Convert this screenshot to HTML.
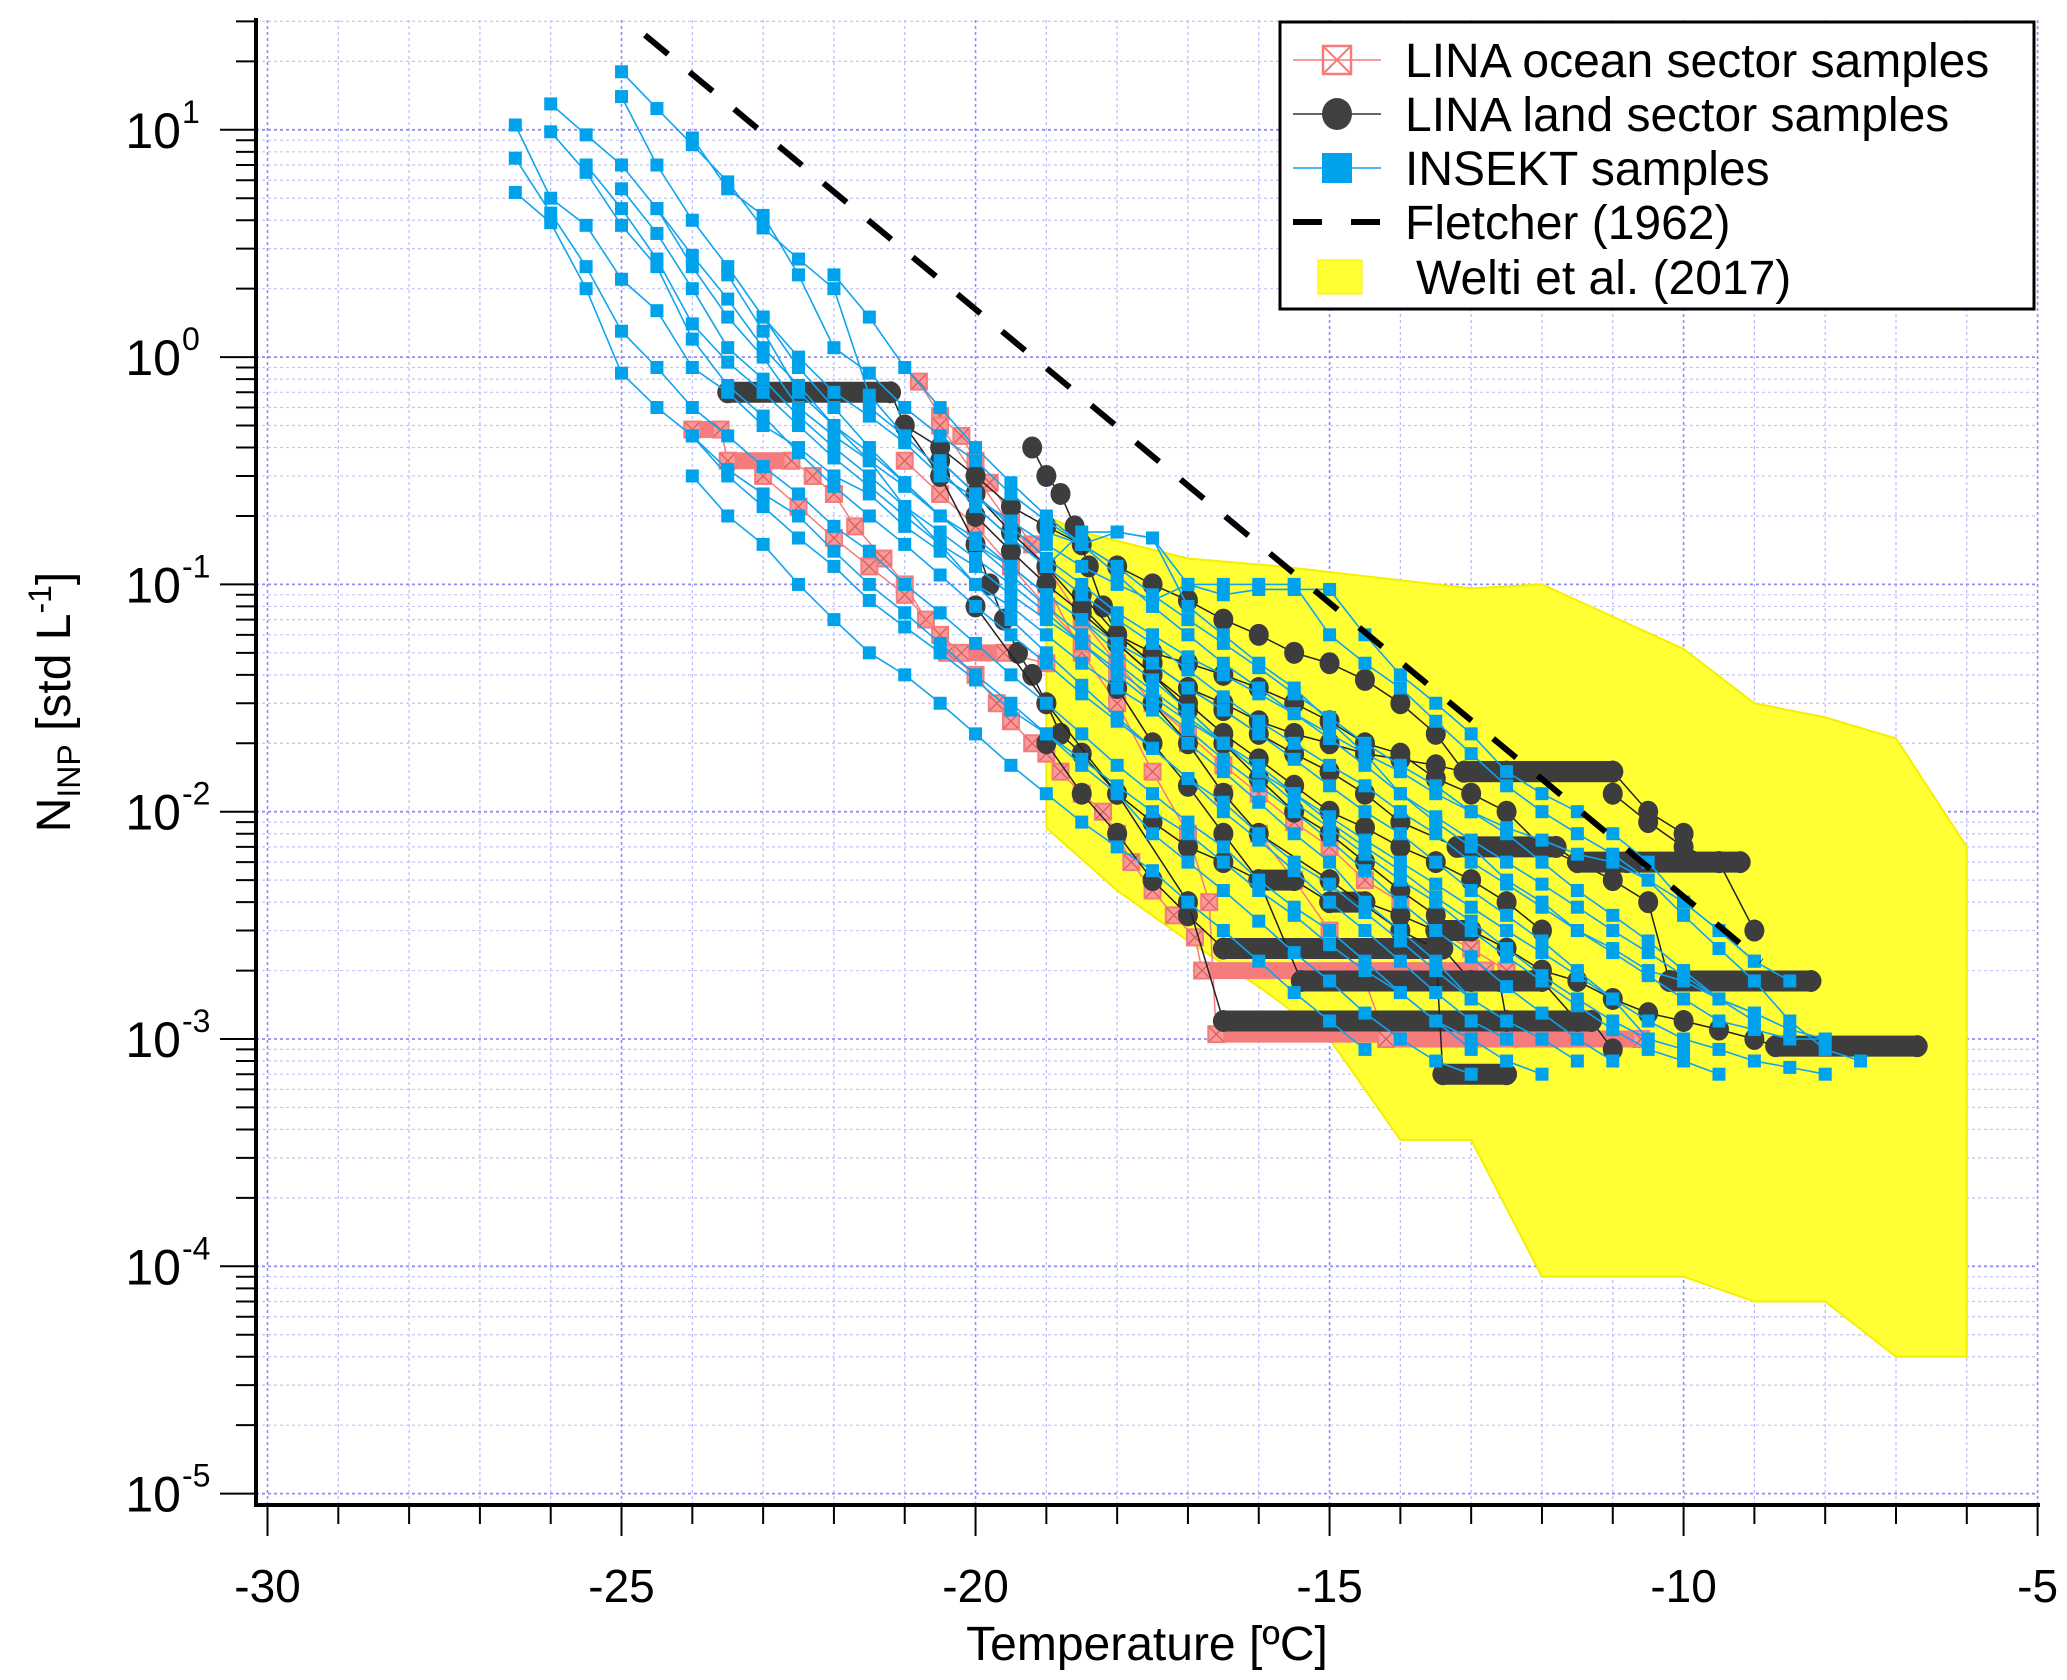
<!DOCTYPE html>
<html><head><meta charset="utf-8">
<style>
html,body{margin:0;padding:0;background:#fff;}
svg{display:block;font-family:"Liberation Sans",Arial,sans-serif;}
</style></head>
<body>
<svg id="chart" width="2067" height="1680" viewBox="0 0 2067 1680" xmlns="http://www.w3.org/2000/svg">
<defs><clipPath id="plotclip"><rect x="256" y="20" width="1782" height="1485"/></clipPath></defs>
<g id="grid"></g>
<g id="welti" clip-path="url(#plotclip)"></g>
<g id="pinkg" clip-path="url(#plotclip)"></g>
<g id="blackg" clip-path="url(#plotclip)"></g>
<g id="blueg" clip-path="url(#plotclip)"></g>
<g id="fletcher" clip-path="url(#plotclip)"></g>
<g id="axes"></g>
<text x="1147" y="1660" font-size="48" text-anchor="middle">Temperature [ºC]</text>
<text transform="translate(70,702) rotate(-90)" font-size="48" text-anchor="middle">N<tspan font-size="32" dy="10">INP</tspan><tspan dy="-10"> [std L</tspan><tspan font-size="32" dy="-19">-1</tspan><tspan dy="19">]</tspan></text>
<g id="legend">
<rect x="1280" y="22" width="754" height="287" fill="#fff" stroke="#000" stroke-width="3"/>
<g>
<line x1="1293" y1="60" x2="1381" y2="60" stroke="#f47c7c" stroke-width="1.5"/>
<rect x="1323" y="46" width="28" height="28" fill="none" stroke="#f47c7c" stroke-width="2.5"/>
<path d="M1323 46 L1351 74 M1351 46 L1323 74" stroke="#f47c7c" stroke-width="2"/>
<text x="1405" y="77" font-size="48">LINA ocean sector samples</text></g>
<g>
<line x1="1293" y1="114" x2="1381" y2="114" stroke="#333" stroke-width="1.5"/>
<ellipse cx="1337" cy="114" rx="15" ry="16" fill="#404040"/>
<text x="1405" y="131" font-size="48">LINA land sector samples</text></g>
<g>
<line x1="1293" y1="168" x2="1381" y2="168" stroke="#0aa3ef" stroke-width="1.5"/>
<rect x="1322" y="153" width="30" height="30" fill="#00a2ec"/>
<text x="1405" y="185" font-size="48">INSEKT samples</text></g>
<g>
<line x1="1293" y1="222" x2="1381" y2="222" stroke="#000" stroke-width="6" stroke-dasharray="29,29"/>
<text x="1405" y="239" font-size="48">Fletcher (1962)</text></g>
<g>
<rect x="1318" y="260" width="44" height="34" fill="#ffff33" stroke="#ffee00" stroke-width="1"/>
<text x="1416" y="294" font-size="48">Welti et al. (2017)</text></g>
</g>
</svg>
<script>
// axis domains
const xDomain=[-30,-5];
const yDomainLog=[-5,1];
const xTicks=[-30,-25,-20,-15,-10,-5];
const xTickLabels=["-30","-25","-20","-15","-10","-5"];
const yTickExps=[1,0,-1,-2,-3,-4,-5];
const yTickLabelExps=["1","0","-1","-2","-3","-4","-5"];
// Fletcher (1962) line endpoints
const fletcherT=[-25.3,-8.9];
const fletcherN=[38,0.0022];
// Welti et al. (2017) envelope
const weltiT=[-19,-18.5,-17,-15.7,-13,-12,-10,-9,-8,-7,-6,-6,-7,-8,-9,-10,-12,-13,-14,-15,-16,-17,-18,-19];
const weltiN=[0.2,0.17,0.13,0.12,0.096,0.1,0.052,0.03,0.026,0.021,0.007,0.00004,0.00004,0.00007,0.00007,0.00009,0.00009,0.00036,0.00036,0.001,0.0017,0.0027,0.0045,0.0085];
// INSEKT samples
const blueT=[
[-25,-24.5,-24,-23.5,-23,-22.5,-22,-21.5,-21,-20.5,-20,-19.5,-19,-18.5,-18,-17.5,-17,-16.5,-16,-15.5,-15,-14.5,-14,-13.5,-13,-12.5,-12,-11.5,-11,-10.5,-10,-9.5,-9],
[-26.5,-26,-25.5,-25,-24.5,-24,-23.5,-23,-22.5,-22,-21.5,-21,-20.5,-20,-19.5,-19,-18.5,-18,-17.5,-17,-16.5,-16,-15.5,-15,-14.5,-14,-13.5,-13],
[-26.5,-26,-25.5,-25,-24.5,-24,-23.5,-23,-22.5,-22,-21.5,-21,-20.5,-20,-19.5,-19,-18.5,-18,-17.5,-17,-16.5,-16,-15.5,-15,-14.5,-14,-13.5,-13],
[-26.5,-26,-25.5,-25,-24.5,-24,-23.5,-23,-22.5,-22,-21.5,-21,-20.5,-20,-19.5,-19,-18.5,-18,-17.5,-17,-16.5,-16,-15.5,-15,-14.5,-14,-13.5,-13],
[-26,-25.5,-25,-24.5,-24,-23.5,-23,-22.5,-22,-21.5,-21,-20.5,-20,-19.5,-19,-18.5,-18,-17.5,-17,-16.5,-16,-15.5,-15,-14.5,-14,-13.5,-13,-12.5,-12,-11.5,-11,-10.5],
[-26,-25.5,-25,-24.5,-24,-23.5,-23,-22.5,-22,-21.5,-21,-20.5,-20,-19.5,-19,-18.5,-18,-17.5,-17,-16.5,-16,-15.5,-15,-14.5,-14,-13.5,-13,-12.5,-12,-11.5],
[-25.5,-25,-24.5,-24,-23.5,-23,-22.5,-22,-21.5,-21,-20.5,-20,-19.5,-19,-18.5,-18,-17.5,-17,-16.5,-16,-15.5,-15,-14.5,-14,-13.5,-13,-12.5,-12,-11.5,-11,-10.5,-10],
[-25,-24.5,-24,-23.5,-23,-22.5,-22,-21.5,-21,-20.5,-20,-19.5,-19,-18.5,-18,-17.5,-17,-16.5,-16,-15.5,-15,-14.5,-14,-13.5,-13,-12.5,-12,-11.5,-11,-10.5,-10,-9.5,-9],
[-25,-24.5,-24,-23.5,-23,-22.5,-22,-21.5,-21,-20.5,-20,-19.5,-19,-18.5,-18,-17.5,-17,-16.5,-16,-15.5,-15,-14.5,-14,-13.5,-13,-12.5,-12,-11.5,-11],
[-24.5,-24,-23.5,-23,-22.5,-22,-21.5,-21,-20.5,-20,-19.5,-19,-18.5,-18,-17.5,-17,-16.5,-16,-15.5,-15,-14.5,-14,-13.5,-13,-12.5,-12,-11.5,-11,-10.5,-10,-9.5],
[-24,-23.5,-23,-22.5,-22,-21.5,-21,-20.5,-20,-19.5,-19,-18.5,-18,-17.5,-17,-16.5,-16,-15.5,-15,-14.5,-14,-13.5,-13,-12.5,-12,-11.5,-11,-10.5,-10,-9.5,-9],
[-24,-23.5,-23,-22.5,-22,-21.5,-21,-20.5,-20,-19.5,-19,-18.5,-18,-17.5,-17,-16.5,-16,-15.5,-15,-14.5,-14,-13.5,-13,-12.5,-12],
[-23.5,-23,-22.5,-22,-21.5,-21,-20.5,-20,-19.5,-19,-18.5,-18,-17.5,-17,-16.5,-16,-15.5,-15,-14.5,-14,-13.5,-13,-12.5],
[-24,-23.5,-23,-22.5,-22,-21.5,-21,-20.5,-20,-19.5,-19,-18.5,-18,-17.5,-17,-16.5,-16,-15.5,-15,-14.5],
[-23,-22.5,-22,-21.5,-21,-20.5,-20,-19.5,-19,-18.5,-18,-17.5,-17,-16.5,-16,-15.5,-15,-14.5,-14,-13.5,-13,-12.5,-12,-11.5,-11,-10.5,-10,-9.5,-9,-8.5,-8],
[-22,-21.5,-21,-20.5,-20,-19.5,-19,-18.5,-18,-17.5,-17,-16.5,-16,-15.5,-15,-14.5,-14,-13.5,-13,-12.5,-12,-11.5,-11,-10.5,-10,-9.5,-9,-8.5,-8],
[-21.5,-21,-20.5,-20,-19.5,-19,-18.5,-18,-17.5,-17,-16.5,-16,-15.5,-15,-14.5,-14,-13.5,-13,-12.5,-12,-11.5,-11,-10.5,-10,-9.5,-9,-8.5,-8],
[-20.5,-20,-19.5,-19,-18.5,-18,-17.5,-17,-16.5,-16,-15.5,-15,-14.5,-14,-13.5,-13,-12.5,-12,-11.5,-11,-10.5,-10,-9.5,-9,-8.5,-8,-7.5],
[-19,-18.5,-18,-17.5,-17,-16.5,-16,-15.5,-15,-14.5,-14,-13.5,-13,-12.5,-12,-11.5,-11,-10.5,-10,-9.5,-9,-8.5]
];
const blueN=[
[18,12.4,8.6,5.9,3.7,2.7,2.0,0.68,0.45,0.32,0.22,0.16,0.12,0.17,0.17,0.16,0.08,0.06,0.045,0.035,0.025,0.018,0.012,0.009,0.007,0.005,0.004,0.003,0.0025,0.002,0.0018,0.0015,0.0013],
[10.5,5,3.8,2.2,1.6,0.9,0.7,0.5,0.4,0.3,0.25,0.18,0.14,0.1,0.08,0.06,0.045,0.035,0.028,0.02,0.015,0.011,0.008,0.006,0.004,0.003,0.0022,0.0015],
[7.5,4.3,2.5,1.3,0.9,0.6,0.45,0.33,0.25,0.18,0.14,0.1,0.075,0.055,0.04,0.03,0.022,0.016,0.012,0.009,0.007,0.005,0.0038,0.003,0.0022,0.0016,0.0012,0.0009],
[5.3,3.9,2.0,0.85,0.6,0.45,0.32,0.25,0.2,0.14,0.1,0.075,0.055,0.04,0.03,0.022,0.016,0.012,0.008,0.006,0.0045,0.0033,0.0024,0.0018,0.0013,0.001,0.0008,0.0007],
[13,9.5,7,4.5,2.8,1.8,1.1,0.75,0.5,0.38,0.28,0.2,0.15,0.12,0.09,0.07,0.055,0.045,0.035,0.028,0.022,0.017,0.013,0.01,0.008,0.006,0.0045,0.0035,0.0027,0.002,0.0015,0.001],
[9.8,6.5,3.8,2.5,1.2,0.75,0.55,0.38,0.27,0.2,0.15,0.11,0.08,0.06,0.045,0.033,0.025,0.019,0.014,0.011,0.008,0.006,0.0048,0.0036,0.0027,0.002,0.0015,0.0012,0.001,0.0008],
[7,4.5,2.7,1.4,0.95,0.7,0.5,0.36,0.27,0.2,0.15,0.12,0.09,0.07,0.055,0.042,0.032,0.025,0.02,0.016,0.012,0.009,0.007,0.0055,0.0042,0.0033,0.0025,0.0019,0.0015,0.0012,0.001,0.0009],
[14,7,4,2.5,1.5,1,0.7,0.55,0.42,0.3,0.24,0.19,0.15,0.12,0.1,0.085,0.1,0.1,0.1,0.1,0.06,0.045,0.035,0.025,0.018,0.013,0.01,0.008,0.0065,0.005,0.004,0.003,0.0022],
[5.5,3.5,2,1.1,0.8,0.55,0.4,0.3,0.22,0.17,0.13,0.1,0.075,0.055,0.04,0.03,0.023,0.017,0.013,0.01,0.0075,0.0055,0.004,0.003,0.0023,0.0017,0.0013,0.001,0.0008],
[4.5,2.5,1.5,1,0.6,0.45,0.35,0.27,0.2,0.16,0.12,0.09,0.07,0.05,0.038,0.028,0.02,0.015,0.011,0.0085,0.0065,0.005,0.004,0.003,0.0023,0.0018,0.0014,0.0011,0.0009,0.0008,0.0007],
[9.2,5.5,4.2,2.3,1.1,0.85,0.6,0.45,0.35,0.25,0.19,0.15,0.12,0.09,0.07,0.055,0.043,0.033,0.026,0.02,0.016,0.013,0.01,0.008,0.006,0.0045,0.0035,0.0027,0.002,0.0015,0.0012],
[0.45,0.3,0.22,0.16,0.12,0.085,0.065,0.05,0.038,0.028,0.022,0.017,0.013,0.01,0.008,0.006,0.0045,0.0035,0.0026,0.002,0.0016,0.0012,0.001,0.0008,0.0007],
[2.3,1.3,0.7,0.5,0.35,0.22,0.15,0.1,0.07,0.05,0.036,0.026,0.019,0.014,0.01,0.0075,0.0055,0.004,0.003,0.0022,0.0016,0.0012,0.001],
[0.3,0.2,0.15,0.1,0.07,0.05,0.04,0.03,0.022,0.016,0.012,0.009,0.007,0.0055,0.004,0.003,0.0022,0.0016,0.0012,0.0009],
[1.5,0.9,0.6,0.4,0.28,0.2,0.15,0.11,0.08,0.06,0.045,0.034,0.026,0.02,0.015,0.012,0.0095,0.0075,0.006,0.0048,0.0038,0.003,0.0024,0.0019,0.0015,0.0012,0.001,0.0009,0.0008,0.00075,0.0007],
[2.3,1.5,0.9,0.6,0.4,0.28,0.2,0.15,0.11,0.08,0.06,0.045,0.035,0.027,0.021,0.016,0.012,0.0095,0.0075,0.006,0.0048,0.0038,0.003,0.0024,0.0019,0.0015,0.0013,0.0011,0.001],
[0.6,0.45,0.32,0.22,0.16,0.12,0.09,0.07,0.055,0.042,0.032,0.025,0.02,0.016,0.013,0.01,0.008,0.006,0.0048,0.0038,0.003,0.0024,0.0019,0.0015,0.0012,0.0011,0.001,0.001],
[0.35,0.25,0.18,0.13,0.1,0.075,0.06,0.048,0.04,0.033,0.027,0.022,0.018,0.015,0.012,0.01,0.0085,0.0075,0.0065,0.006,0.005,0.0035,0.0025,0.0018,0.0012,0.0009,0.0008],
[0.17,0.15,0.17,0.16,0.1,0.09,0.095,0.095,0.095,0.06,0.04,0.03,0.022,0.015,0.012,0.01,0.008,0.006,0.004,0.003,0.0022,0.0018]
];
// LINA land sector samples
const blackT=[
[-23.5,-21.2,-21,-20.5,-20,-19.5,-19,-18.5,-18,-17.5,-17,-16.5,-16,-15.5,-15,-14.5,-14,-13.5,-13.1,-12.5,-11,-11,-10.5,-10,-9.5,-9.2],
[-19.2,-19,-18.8,-18.6,-18.4,-18.2,-18,-17.5,-17,-16.5,-16,-15.5,-15,-14.5,-14,-13.5,-13,-12.5,-12,-11.5,-11,-10.5,-10.2,-8.2],
[-21,-20.5,-20,-19.8,-19.6,-19.4,-19.2,-19,-18.8,-18.5,-18,-17.5,-17,-16.5,-16,-15.5,-15,-14.5,-14,-13.5,-13,-12.5,-12,-11.5,-11,-10.5,-10,-9.5,-9,-8.7,-6.7],
[-19,-18.5,-18,-17.5,-17,-16.5,-13.4,-13,-12,-11.5],
[-18,-17.5,-17,-16.5,-16,-15.4,-12.6,-12.5],
[-20,-19,-18,-17,-16.5,-11.3,-11],
[-17.5,-17,-16.5,-16,-15,-14,-13.5,-13.4,-12.5],
[-18.5,-18,-17.5,-17,-16.5,-16,-15.5,-15,-14.5,-14,-13.5,-13.1,-11,-10.5,-10],
[-18,-17.5,-17,-16.5,-16,-15.5,-15,-14.5,-14,-13.2,-11.8,-11.5,-11,-10.8,-9.5,-9],
[-20.5,-20,-19.5,-19,-18.5,-18,-17.5,-17,-16.5,-16,-15.5,-15,-14.5,-14,-13.5],
[-20,-19.5,-19,-18.5,-18,-17.5,-17,-16.5,-16,-15.5,-15,-14.5,-14,-13.5,-13,-12.5,-12]
];
const blackN=[
[0.7,0.7,0.5,0.4,0.3,0.22,0.18,0.15,0.12,0.1,0.085,0.07,0.06,0.05,0.045,0.038,0.03,0.022,0.015,0.015,0.015,0.012,0.009,0.007,0.006,0.006],
[0.4,0.3,0.25,0.18,0.12,0.08,0.06,0.05,0.045,0.04,0.035,0.03,0.025,0.02,0.018,0.014,0.012,0.01,0.007,0.006,0.005,0.004,0.0018,0.0018],
[0.5,0.3,0.15,0.1,0.07,0.05,0.04,0.03,0.022,0.018,0.012,0.009,0.007,0.006,0.005,0.005,0.004,0.004,0.0035,0.003,0.003,0.0025,0.002,0.0018,0.0015,0.0013,0.0012,0.0011,0.001,0.00093,0.00093],
[0.02,0.012,0.008,0.005,0.0035,0.0025,0.0025,0.0018,0.0018,0.0012],
[0.035,0.02,0.013,0.008,0.005,0.0018,0.0018,0.0012],
[0.08,0.03,0.012,0.004,0.0012,0.0012,0.0009],
[0.03,0.02,0.012,0.008,0.005,0.003,0.0025,0.0007,0.0007],
[0.09,0.06,0.045,0.035,0.03,0.025,0.022,0.02,0.018,0.017,0.016,0.015,0.015,0.01,0.008],
[0.06,0.045,0.035,0.028,0.022,0.018,0.015,0.012,0.009,0.007,0.007,0.006,0.006,0.006,0.006,0.003],
[0.35,0.25,0.17,0.12,0.08,0.055,0.04,0.028,0.02,0.014,0.01,0.008,0.006,0.0045,0.0035],
[0.2,0.14,0.1,0.075,0.055,0.04,0.03,0.022,0.017,0.013,0.01,0.0085,0.007,0.006,0.005,0.004,0.003]
];
// LINA ocean sector samples
const pinkT=[
[-24,-23.6,-23.5,-22.6,-22.3,-22,-21.7,-21.3,-21,-20.7,-20.4,-20,-19.7,-19.5,-19.2,-19,-18.8,-18.5,-18.2,-18,-17.8,-17.5,-17.2,-16.9,-16.8,-12.8],
[-20.8,-20.5,-20.2,-20,-19.8,-19.5,-19.2,-19,-18.5,-18,-17.5,-17,-16.7,-16.6,-14.1],
[-20.5,-20,-19.5,-19,-18.5,-18,-17.5,-17,-16.5,-16,-15.5,-15,-14.5,-14.2,-10.6],
[-21,-20.5,-20,-19.5,-19,-18.5,-18,-17.5,-17,-16.5,-16,-15.5,-15,-14.5,-14,-13.5,-13,-12.5,-12],
[-23,-22.5,-22,-21.5,-21,-20.5,-20.2,-19.6,-19]
];
const pinkN=[
[0.48,0.48,0.35,0.35,0.3,0.25,0.18,0.13,0.1,0.07,0.05,0.04,0.03,0.025,0.02,0.018,0.015,0.012,0.01,0.008,0.006,0.0045,0.0035,0.0028,0.002,0.002],
[0.78,0.55,0.45,0.35,0.28,0.2,0.15,0.1,0.05,0.03,0.015,0.008,0.004,0.00105,0.00105],
[0.5,0.3,0.18,0.12,0.07,0.045,0.03,0.02,0.012,0.008,0.005,0.003,0.0018,0.001,0.001],
[0.35,0.25,0.18,0.12,0.08,0.055,0.04,0.03,0.022,0.016,0.012,0.009,0.007,0.005,0.004,0.003,0.0025,0.002,0.0018],
[0.3,0.22,0.16,0.12,0.09,0.06,0.05,0.05,0.045]
];

const NS="http://www.w3.org/2000/svg";
const PX0=267.5,PX1=2037.6,PY0=1493.6,PY1=129.8;
function X(t){return PX0+(t-xDomain[0])/(xDomain[1]-xDomain[0])*(PX1-PX0);}
function Yl(l){return PY0-(l-yDomainLog[0])*(PY0-PY1)/(yDomainLog[1]-yDomainLog[0]);}
function Yn(n){return Yl(Math.log10(n));}
function mk(tag,attrs,parent){const e=document.createElementNS(NS,tag);for(const k in attrs)e.setAttribute(k,attrs[k]);parent.appendChild(e);return e;}

// grid
const grid=document.getElementById('grid');
for(let t=-30;t<=-5;t++){
  const l=mk('line',{x1:X(t),x2:X(t),y1:20,y2:1505,stroke:(t%5===0)?'#8f8ff2':'#b9b9f5','stroke-width':(t%5===0)?1.6:1.2,'stroke-dasharray':'3,3'},grid);
  
  
}
for(let e=-5;e<=1;e++){
  for(let m=1;m<=9;m++){
    const v=Math.log10(m)+e; if(v>1.48) continue;
    const y=Yl(v);
    const l=mk('line',{x1:256,x2:2038,y1:y,y2:y,stroke:(m===1)?'#8f8ff2':'#c4c4f6','stroke-width':(m===1)?1.8:1.2,'stroke-dasharray':'3,3'},grid);
    
    
  }
}

// welti band
const wg=document.getElementById('welti');
const wp=mk('polygon',{points:weltiT.map((t,i)=>X(t)+','+Yn(weltiN[i])).join(' '),fill:'#ffff33',stroke:'#f5ee00','stroke-width':2},wg);



// pink series
const pg=document.getElementById('pinkg');
pinkT.forEach((ts,si)=>{
  const g=mk('g',{},pg);
  
  
  mk('polyline',{points:ts.map((t,i)=>X(t)+','+Yn(pinkN[si][i])).join(' '),fill:'none',stroke:'#f47c7c','stroke-width':1.5},g);
  for(let i=0;i+1<ts.length;i++){ if(pinkN[si][i]===pinkN[si][i+1]){
    mk('line',{x1:X(ts[i]),x2:X(ts[i+1]),y1:Yn(pinkN[si][i]),y2:Yn(pinkN[si][i]),stroke:'#f47c7c','stroke-width':17,'stroke-linecap':'square'},g);}}
  ts.forEach((t,i)=>{
    const x=X(t),y=Yn(pinkN[si][i]);
    const r=mk('rect',{x:x-8,y:y-8,width:16,height:16,fill:'#f79a9a',stroke:'#f47c7c','stroke-width':2},g);
    
    
    mk('path',{d:`M${x-7} ${y-7}L${x+7} ${y+7}M${x+7} ${y-7}L${x-7} ${y+7}`,stroke:'#e05a5a','stroke-width':1.3},g);
  });
});

// black series
const kg=document.getElementById('blackg');
blackT.forEach((ts,si)=>{
  const g=mk('g',{},kg);
  
  
  mk('polyline',{points:ts.map((t,i)=>X(t)+','+Yn(blackN[si][i])).join(' '),fill:'none',stroke:'#222','stroke-width':1.5},g);
  for(let i=0;i+1<ts.length;i++){ if(blackN[si][i]===blackN[si][i+1]){
    mk('line',{x1:X(ts[i]),x2:X(ts[i+1]),y1:Yn(blackN[si][i]),y2:Yn(blackN[si][i]),stroke:'#3d3d3d','stroke-width':21,'stroke-linecap':'round'},g);}}
  ts.forEach((t,i)=>{
    const c=mk('ellipse',{cx:X(t),cy:Yn(blackN[si][i]),rx:10,ry:11,fill:'#3d3d3d'},g);
    
    
  });
});

// blue series
const bg=document.getElementById('blueg');
blueT.forEach((ts,si)=>{
  const g=mk('g',{},bg);
  
  
  mk('polyline',{points:ts.map((t,i)=>X(t)+','+Yn(blueN[si][i])).join(' '),fill:'none',stroke:'#10a4ee','stroke-width':1.6},g);
  ts.forEach((t,i)=>{
    const r=mk('rect',{x:X(t)-6.5,y:Yn(blueN[si][i])-6.5,width:13,height:13,fill:'#00a2ec'},g);
    
    
  });
});

// fletcher
const fg=document.getElementById('fletcher');
const fl=mk('line',{x1:X(fletcherT[0]),y1:Yn(fletcherN[0]),x2:X(fletcherT[1]),y2:Yn(fletcherN[1]),stroke:'#000','stroke-width':6,'stroke-dasharray':'30,28'},fg);



// axes
const ax=document.getElementById('axes');
mk('line',{x1:256,y1:18,x2:256,y2:1507,stroke:'#000','stroke-width':4},ax);
mk('line',{x1:254,y1:1505,x2:2040,y2:1505,stroke:'#000','stroke-width':4},ax);
for(let t=-30;t<=-5;t++){
  const maj=(t%5===0);
  const tk=mk('line',{x1:X(t),x2:X(t),y1:1505,y2:maj?1536:1524,stroke:'#000','stroke-width':2},ax);
  
  
}
xTicks.forEach((t,i)=>{
  const tx=mk('text',{x:X(t),y:1602,'font-size':46,'text-anchor':'middle'},ax);
  tx.textContent=xTickLabels[i];
  
  
});
for(let e=-5;e<=1;e++){
  for(let m=1;m<=9;m++){
    const v=Math.log10(m)+e; if(v>1.48) continue;
    const tk=mk('line',{x1:m===1?220:236,x2:256,y1:Yl(v),y2:Yl(v),stroke:'#000','stroke-width':2},ax);
    
    
  }
}
yTickExps.forEach((e,i)=>{
  const tx=mk('text',{x:181,y:Yl(e)+18,'font-size':50,'text-anchor':'end'},ax);
  tx.textContent='10';
  
  
  const sp=mk('text',{x:182,y:Yl(e)-7,'font-size':32,'text-anchor':'start'},ax);
  sp.textContent=yTickLabelExps[i];
  
  
});
</script>
</body></html>
